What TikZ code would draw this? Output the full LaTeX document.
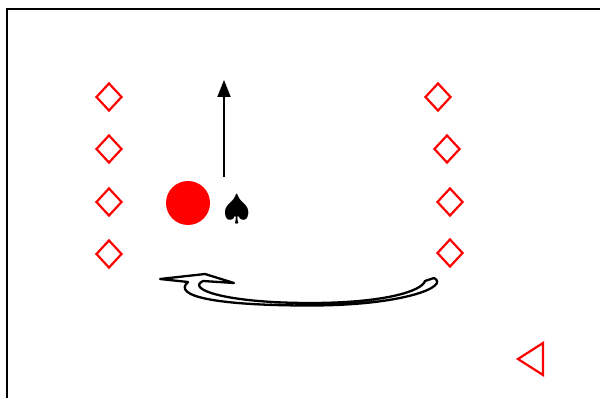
\documentclass[tikz,border=0pt]{standalone}
\usepackage{tikz}
\usetikzlibrary{arrows.meta,shapes.geometric}
\tikzset{
  mark box/.style={diamond,draw=red,line width=2.2pt,inner sep=0pt,minimum width=26pt,minimum height=28pt}
}
\begin{document}
\begin{tikzpicture}[x=1pt,y=-1pt]
\useasboundingbox (0,0) rectangle (600,398);
\clip (0,0) rectangle (600,398);
\draw[line width=2.4pt] (7,9) rectangle (640,440);
\node[mark box] (l1) at (109,97) {}; \node[mark box] (l2) at (109,149) {};
\node[mark box] (l3) at (109,202) {}; \node[mark box] (l4) at (109,254) {};
\node[mark box] (r1) at (438,97) {}; \node[mark box] (r2) at (447,149) {};
\node[mark box] (r3) at (450,202) {}; \node[mark box] (r4) at (450,253) {};
\node[circle,fill=red,minimum size=44pt,inner sep=0pt] (ball) at (188,203) {};
\node[inner sep=0pt] (spade) at (237,210) {\scalebox{3.5}{$\spadesuit$}};
\coordinate (base) at (224,177); \coordinate (top) at (224,80);
\draw[line width=2pt,-{Triangle[length=17pt,width=13pt]}] (base)--(top);
% hollow curved arrow
\draw[line width=2.3pt,fill=white,line join=round] (160,279)--(205,274)--(234,283)--(203,281)
  .. controls (186,289) and (225,303) .. (310,303) .. controls (385,303) and (422,291) .. (425,281)
  --(434,278) .. controls (450,286) and (405,305.5) .. (310,305.5) .. controls (215,305.5) and (172,296) .. (188,282)
  --cycle;
\draw[red,line width=2.2pt,line join=miter] (518,359)--(543,343)--(543,375)--cycle;
\end{tikzpicture}
\end{document}
